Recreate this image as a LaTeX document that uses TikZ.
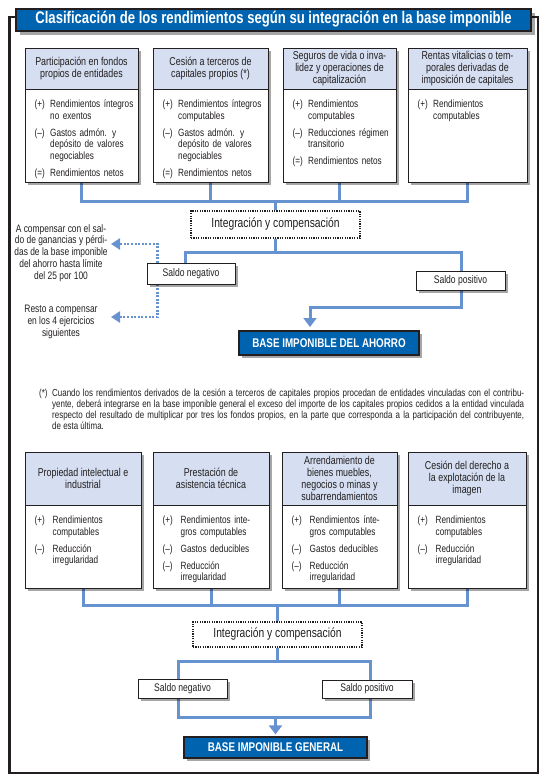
\documentclass[tikz,border=0pt]{standalone}
\usepackage{fontspec}
\setmainfont{Liberation Sans}[FakeStretch=0.78]
\usetikzlibrary{arrows.meta,shadows}
\pgfdeclarelayer{bg}
\pgfsetlayers{bg,main}
\definecolor{ttlblue}{RGB}{0,99,176}
\definecolor{hdrfill}{RGB}{213,223,241}
\definecolor{connblue}{RGB}{103,146,208}
\definecolor{ink}{RGB}{35,31,32}
\newlength\itmw
\newcommand\itm[2]{\par\hangindent=\itmw\hangafter=1\noindent\makebox[\itmw][l]{#1}#2\par\vspace{5.5pt}}
\newcommand\mkcard[9]{%
 \node[card,anchor=north west,minimum width={#3-#2},minimum height={#6-#4}] (#1) at (#2,#4) {};
 \path[hdrbox] (#2,#4) rectangle (#3,#5);
 \node[hdrtxt] (#1h) at ({(#2+#3)/2},{(#4+#5)/2}) {#7};
 \node[bodytxt] (#1b) at ({#2+9.5},{#5+7}) {\setlength\itmw{#8}#9};
}
\begin{document}
\begin{tikzpicture}[x=1pt,y=-1pt,
  card/.style={draw=ink,line width=0.9pt,fill=white,inner sep=0,
     drop shadow={shadow xshift=2.5pt,shadow yshift=-2.5pt,fill=black,opacity=0.35}},
  hdrbox/.style={fill=hdrfill,draw=ink,line width=0.9pt},
  hdrtxt/.style={align=center,inner sep=0,text=ink,font=\fontsize{11.4}{12}\selectfont},
  bodytxt/.style={anchor=north west,inner sep=0,text width=104pt,text=ink,font=\fontsize{10.5}{11.5}\selectfont},
  saldo/.style={draw=ink,line width=0.9pt,fill=white,inner sep=0,text=ink,font=\fontsize{11}{12}\selectfont,
     drop shadow={shadow xshift=2.5pt,shadow yshift=-2.5pt,fill=black,opacity=0.35}},
  integ/.style={draw=ink,line width=1.2pt,dash pattern=on 1.2pt off 1.2pt,fill=white,inner sep=0,text=ink,font=\fontsize{13.2}{14}\selectfont},
  basebox/.style={draw=ink,line width=1.2pt,fill=ttlblue,text=white,inner sep=0,font=\bfseries\fontsize{12.6}{13}\selectfont,
     drop shadow={shadow xshift=3pt,shadow yshift=-3pt,fill=black,opacity=0.35}},
  titlebar/.style={draw=ink,line width=2pt,fill=ttlblue,text=white,inner sep=0,font=\bfseries\fontsize{16.8}{17}\selectfont,
     drop shadow={shadow xshift=4pt,shadow yshift=-4pt,fill=black,opacity=0.35}},
  conn/.style={draw=connblue,line width=3pt},
  dotc/.style={draw=connblue,line width=2.6pt,dash pattern=on 2pt off 1.6pt},
  bigtip/.style={-{Triangle[width=13pt,length=9pt]}},
  dottip/.style={-{Triangle[width=11pt,length=9pt]}},
  sidetxt/.style={align=center,inner sep=0,text=ink,font=\fontsize{10.8}{11.8}\selectfont},
  fnote/.style={anchor=north west,inner sep=0,align=left,text=ink,font=\fontsize{10.2}{10.8}\selectfont}
]
\useasboundingbox (0,0) rectangle (547,780);
\begin{pgfonlayer}{bg}
\draw[ink,line width=2.4pt] (9.5,17) rectangle (538,773);
\end{pgfonlayer}
\node[titlebar,minimum width=515pt,minimum height=22pt] (ttl) at (273.5,19.5)
  {Clasificación de los rendimientos según su integración en la base imponible};

% top cards
\mkcard{c1}{25}{138}{48}{89}{182}{Participación en fondos\\propios de entidades}{15.5pt}{%
 \itm{(+)}{Rendimientos íntegros\newline no exentos}%
 \itm{(–)}{Gastos admón. y\newline depósito de valores\newline negociables}%
 \itm{(=)}{Rendimientos netos}}
\mkcard{c2}{153}{268}{48}{89}{182}{Cesión a terceros de\\capitales propios (*)}{15.5pt}{%
 \itm{(+)}{Rendimientos íntegros\newline computables}%
 \itm{(–)}{Gastos admón. y\newline depósito de valores\newline negociables}%
 \itm{(=)}{Rendimientos netos}}
\mkcard{c3}{283}{396}{48}{89}{182}{Seguros de vida o inva-\\lidez y operaciones de\\capitalización}{15.5pt}{%
 \itm{(+)}{Rendimientos\newline computables}%
 \itm{(–)}{Reducciones régimen\newline transitorio}%
 \itm{(=)}{Rendimientos netos}}
\mkcard{c4}{408}{527}{48}{89}{182}{Rentas vitalicias o tem-\\porales derivadas de\\imposición de capitales}{15.5pt}{%
 \itm{(+)}{Rendimientos\newline computables}}

\node[integ,minimum width=169pt,minimum height=27pt] (int1) at (275.5,224.5) {Integración y compensación};
\node[saldo,minimum width=88pt,minimum height=21pt] (neg1) at (191,273.5) {Saldo negativo};
\node[saldo,minimum width=89pt,minimum height=19pt] (pos1) at (460.5,280.5) {Saldo positivo};
\node[basebox,minimum width=180pt,minimum height=24pt] (aho) at (329,343) {BASE IMPONIBLE DEL AHORRO};
\node[sidetxt] (sa) at (61,253) {A compensar con el sal-\\do de ganancias y pérdi-\\das de la base imponible\\del ahorro hasta límite\\del 25 por 100};
\node[sidetxt] (sb) at (61,322) {Resto a compensar\\en los 4 ejercicios\\siguientes};

% footnote
\node[fnote] (fn) at (39,389) {%
\makebox[13pt][l]{(*)}\makebox[472pt][s]{Cuando los rendimientos derivados de la cesión a terceros de capitales propios procedan de entidades vinculadas con el contribu-}\\
\hspace*{13pt}\makebox[472pt][s]{yente, deberá integrarse en la base imponible general el exceso del importe de los capitales propios cedidos a la entidad vinculada}\\
\hspace*{13pt}\makebox[472pt][s]{respecto del resultado de multiplicar por tres los fondos propios, en la parte que corresponda a la participación del contribuyente,}\\
\hspace*{13pt}de esta última.};

% bottom cards
\mkcard{d1}{25}{141}{452}{505}{588}{Propiedad intelectual e\\industrial}{18pt}{%
 \itm{(+)}{Rendimientos\newline computables}%
 \itm{(–)}{Reducción\newline irregularidad}}
\mkcard{d2}{153}{269}{452}{505}{588}{Prestación de\\asistencia técnica}{18pt}{%
 \itm{(+)}{Rendimientos inte-\newline gros computables}%
 \itm{(–)}{Gastos deducibles}%
 \itm{(–)}{Reducción\newline irregularidad}}
\mkcard{d3}{282}{397}{452}{505}{588}{Arrendamiento de\\bienes muebles,\\negocios o minas y\\subarrendamientos}{18pt}{%
 \itm{(+)}{Rendimientos ínte-\newline gros computables}%
 \itm{(–)}{Gastos deducibles}%
 \itm{(–)}{Reducción\newline irregularidad}}
\mkcard{d4}{408}{526}{452}{505}{588}{Cesión del derecho a\\la explotación de la\\imagen}{18pt}{%
 \itm{(+)}{Rendimientos\newline computables}%
 \itm{(–)}{Reducción\newline irregularidad}}

\node[integ,minimum width=169pt,minimum height=25pt] (int2) at (277.5,634.5) {Integración y compensación};
\node[saldo,minimum width=89pt,minimum height=19pt] (neg2) at (182.5,688.5) {Saldo negativo};
\node[saldo,minimum width=90pt,minimum height=18pt] (pos2) at (367,689) {Saldo positivo};
\node[basebox,minimum width=183pt,minimum height=21pt] (gen) at (275.5,747.5) {BASE IMPONIBLE GENERAL};

\begin{pgfonlayer}{bg}
% top connectors
\coordinate (busT) at (0,201);
\draw[conn] (c1.south) -- (c1.south |- busT) -- (c4.south |- busT) -- (c4.south);
\draw[conn] (c2.south) -- (c2.south |- busT);
\draw[conn] (c3.south) -- (c3.south |- busT);
\draw[conn] (int1.north |- busT) -- (int1.north);
\coordinate (lT) at (185,252);
\coordinate (rT) at (461,252);
\draw[conn] (int1.south) -- (int1.south |- lT);
\draw[conn] (lT |- neg1.center) -- (lT) -- (rT) -- (rT |- pos1.center);
\coordinate (bendT) at (461,307);
\coordinate (tipT) at (310,327);
\draw[conn,bigtip] (rT |- pos1.center) -- (bendT) -- (tipT |- bendT) -- (tipT);
\coordinate (dvA) at (157.5,244);
\coordinate (dvB) at (157.5,317);
\coordinate (tipA) at (111,244);
\coordinate (tipB) at (111,317);
\draw[dotc,dottip] (dvA |- neg1.center) -- (dvA) -- (tipA);
\draw[dotc,dottip] (dvB |- neg1.center) -- (dvB) -- (tipB);
% bottom connectors
\coordinate (busB) at (0,605);
\draw[conn] (d1.south) -- (d1.south |- busB) -- (d4.south |- busB) -- (d4.south);
\draw[conn] (d2.south) -- (d2.south |- busB);
\draw[conn] (d3.south) -- (d3.south |- busB);
\draw[conn] (int2.north |- busB) -- (int2.north);
\coordinate (blB) at (178,661);
\coordinate (trB) at (370,717);
\draw[conn] (int2.south) -- (int2.south |- blB);
\draw[conn] (blB) rectangle (trB);
\draw[conn,bigtip] (gen.north |- trB) -- ([yshift=2pt]gen.north);
\end{pgfonlayer}
\end{tikzpicture}
\end{document}
